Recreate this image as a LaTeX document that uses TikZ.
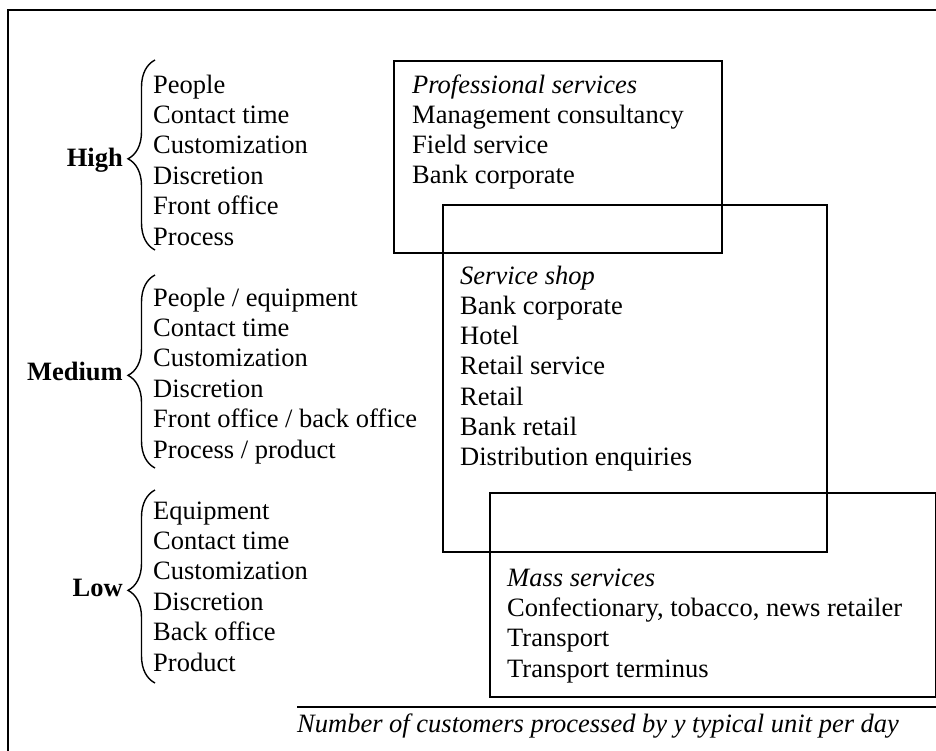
\documentclass[tikz,border=0pt]{standalone}
\usepackage{fontspec}
\setmainfont{Liberation Serif}
\usetikzlibrary{decorations.pathreplacing}
\begin{document}
\begin{tikzpicture}[x=1pt,y=-1pt,
  txt/.style={anchor=base west,inner sep=0pt,font=\fontsize{26.5}{30.4}\selectfont},
  lvl/.style={anchor=base east,inner sep=0pt,font=\fontsize{26.5}{30.4}\selectfont\bfseries},
  box/.style={draw,line width=1.7pt,anchor=north west,inner sep=0pt},
  brc/.style={line width=1.4pt,decorate,decoration={brace,amplitude=27pt,aspect=0.48}},
  frm/.style={line width=1.8pt}]
\useasboundingbox (0,0) rectangle (936,750);
% outer frame
\coordinate (fbl) at (8,760);
\coordinate (ftl) at (8,10);
\coordinate (ftr) at (950,10);
\draw[frm] (fbl) -- (ftl) -- (ftr);
% High
\foreach \t [count=\i from 0] in {People,Contact time,Customization,Discretion,Front office,Process}
  \node[txt] (h\i) at (153,{93+30.45*\i}) {\t};
\node[lvl] (high) at (123,166) {High};
\coordinate (hb1) at (155,250);
\coordinate (hb2) at (155,60);
\draw[brc] (hb1) -- (hb2);
% Medium
\foreach \t [count=\i from 0] in {People / equipment,Contact time,Customization,Discretion,Front office / back office,Process / product}
  \node[txt] (m\i) at (153,{306+30.45*\i}) {\t};
\node[lvl] (medium) at (123,380) {Medium};
\coordinate (mb1) at (155,468);
\coordinate (mb2) at (155,275);
\draw[brc] (mb1) -- (mb2);
% Low
\foreach \t [count=\i from 0] in {Equipment,Contact time,Customization,Discretion,Back office,Product}
  \node[txt] (l\i) at (153,{519+30.45*\i}) {\t};
\node[lvl] (low) at (123,596) {Low};
\coordinate (lb1) at (155,683);
\coordinate (lb2) at (155,490);
\draw[brc] (lb1) -- (lb2);
% boxes
\node[box,minimum width=328pt,minimum height=192pt] (prof) at (393,60) {};
\node[box,minimum width=384pt,minimum height=347pt] (shop) at (442,204) {};
\node[box,minimum width=446pt,minimum height=204pt] (mass) at (489,492) {};
% professional services
\node[txt,font=\fontsize{26.5}{30.4}\selectfont\itshape] (p0) at (412,93) {Professional services};
\foreach \t [count=\i from 1] in {Management consultancy,Field service,Bank corporate}
  \node[txt] (p\i) at (412,{93+30.2*\i}) {\t};
% service shop
\node[txt,font=\fontsize{26.5}{30.4}\selectfont\itshape] (s0) at (460,284) {Service shop};
\foreach \t [count=\i from 1] in {Bank corporate,Hotel,Retail service,Retail,Bank retail,Distribution enquiries}
  \node[txt] (s\i) at (460,{284+30.3*\i}) {\t};
% mass services
\node[txt,font=\fontsize{26.5}{30.4}\selectfont\itshape] (ms0) at (507,586) {Mass services};
\foreach \t [count=\i from 1] in {{Confectionary, tobacco, news retailer},Transport,Transport terminus}
  \node[txt] (ms\i) at (507,{586+30.4*\i}) {\t};
% axis
\coordinate (ax1) at (297,707);
\coordinate (ax2) at (940,707);
\draw[frm] (ax1) -- (ax2);
\node[txt,font=\fontsize{26.5}{30.4}\selectfont\itshape] (cap) at (297,732) {Number of customers processed by y typical unit per day};
\end{tikzpicture}
\end{document}
